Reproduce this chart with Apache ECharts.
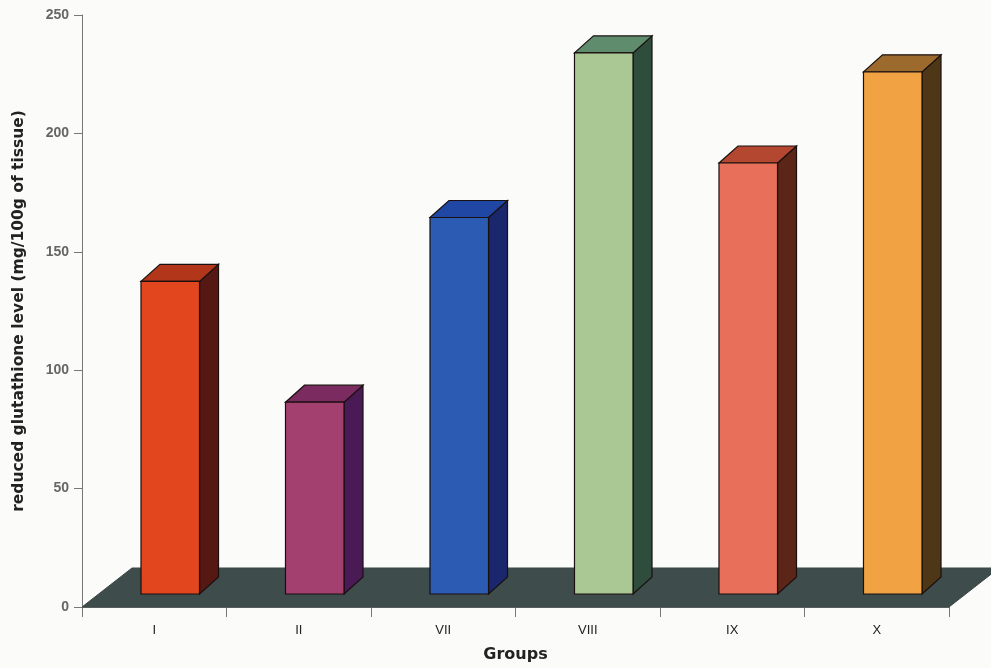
<!DOCTYPE html>
<html>
<head>
<meta charset="utf-8">
<script src="https://cdn.jsdelivr.net/npm/echarts@6/dist/echarts.min.js"></script>
<style>html,body{margin:0;padding:0;background:#fbfbfa;}#c{width:991px;height:668px;}</style>
</head>
<body>
<div id="c"></div>
<script>
var categories = ['I', 'II', 'VII', 'VIII', 'IX', 'X'];
var values = [132, 81, 159, 228.5, 182, 220.5];
var yTicks = [0, 50, 100, 150, 200, 250];
var frontColors = ['#e2461e', '#a3406f', '#2b5bb2', '#a9c893', '#e8705a', '#f1a243'];
var topColors = ['#b2361a', '#7c2b60', '#1f47a3', '#5f8c6c', '#b4472f', '#9c6a2c'];
var sideColors = ['#561812', '#4a1a55', '#1b276c', '#2f4d3c', '#5b2617', '#4d3716'];

var chart = echarts.init(document.getElementById('c'));

function floorItem(params, api) {
  var cs = params.coordSys;
  var fx = cs.x, fy = cs.y + cs.height, w = cs.width;
  var dx = 50, dy = -39;
  return {
    type: 'polygon',
    shape: { points: [[fx, fy], [fx + w, fy], [fx + w + dx, fy + dy], [fx + dx, fy + dy]] },
    style: { fill: '#3f4c4c', stroke: '#3a4646', lineWidth: 1 }
  };
}

function barItem(params, api) {
  var i = api.value(0);
  var v = api.value(1);
  var base = api.coord([i, 0]);
  var top = api.coord([i, v]);
  var band = api.size([1, 0])[0];
  var w = band * 0.405;
  var ox = 16, oy = -13;     // placement inside the floor depth
  var dx = 19, dy = -17;     // bar depth
  var x0 = base[0] - w / 2 + ox, x1 = x0 + w;
  var yb = base[1] + oy, yt = top[1] + oy;
  var stroke = '#1a1010';
  return {
    type: 'group',
    children: [
      { type: 'polygon', shape: { points: [[x1, yb], [x1 + dx, yb + dy], [x1 + dx, yt + dy], [x1, yt]] },
        style: { fill: sideColors[i], stroke: stroke, lineWidth: 1.2 } },
      { type: 'polygon', shape: { points: [[x0, yt], [x1, yt], [x1 + dx, yt + dy], [x0 + dx, yt + dy]] },
        style: { fill: topColors[i], stroke: stroke, lineWidth: 1.2 } },
      { type: 'rect', shape: { x: x0, y: yt, width: w, height: yb - yt },
        style: { fill: frontColors[i], stroke: stroke, lineWidth: 1.2 } }
    ]
  };
}

var option = {
  backgroundColor: '#fbfbfa',
  animation: false,
  grid: { left: 82, right: 42, top: 15, bottom: 60 },
  xAxis: {
    type: 'category',
    data: categories,
    name: 'Groups',
    nameLocation: 'middle',
    nameGap: 40,
    nameTextStyle: { fontFamily: 'DejaVu Sans', fontWeight: 'bold', fontSize: 16, color: '#222' },
    axisLine: { lineStyle: { color: '#777', width: 1 } },
    axisTick: { show: true, length: 10, lineStyle: { color: '#777' } },
    axisLabel: { fontFamily: 'Liberation Sans', fontSize: 13, color: '#222', margin: 17 },
    splitLine: { show: false }
  },
  yAxis: {
    type: 'value',
    min: yTicks[0],
    max: yTicks[yTicks.length - 1],
    interval: 50,
    name: 'reduced glutathione level (mg/100g of tissue)',
    nameLocation: 'middle',
    nameGap: 55,
    nameTextStyle: { fontFamily: 'DejaVu Sans', fontWeight: 'bold', fontSize: 15.5, color: '#222' },
    axisLine: { show: true, lineStyle: { color: '#777', width: 1 } },
    axisTick: { show: true, length: 8, lineStyle: { color: '#777' } },
    axisLabel: { fontFamily: 'Liberation Sans', fontWeight: 'bold', fontSize: 14, color: '#666', margin: 13 },
    splitLine: { show: false }
  },
  series: [
    { type: 'custom', z: 1, renderItem: floorItem, data: [[0, 0]], silent: true },
    { type: 'custom', z: 2, renderItem: barItem,
      data: values.map(function (v, i) { return [i, v]; }),
      encode: { x: 0, y: 1 } }
  ]
};
chart.setOption(option);
</script>
</body>
</html>
